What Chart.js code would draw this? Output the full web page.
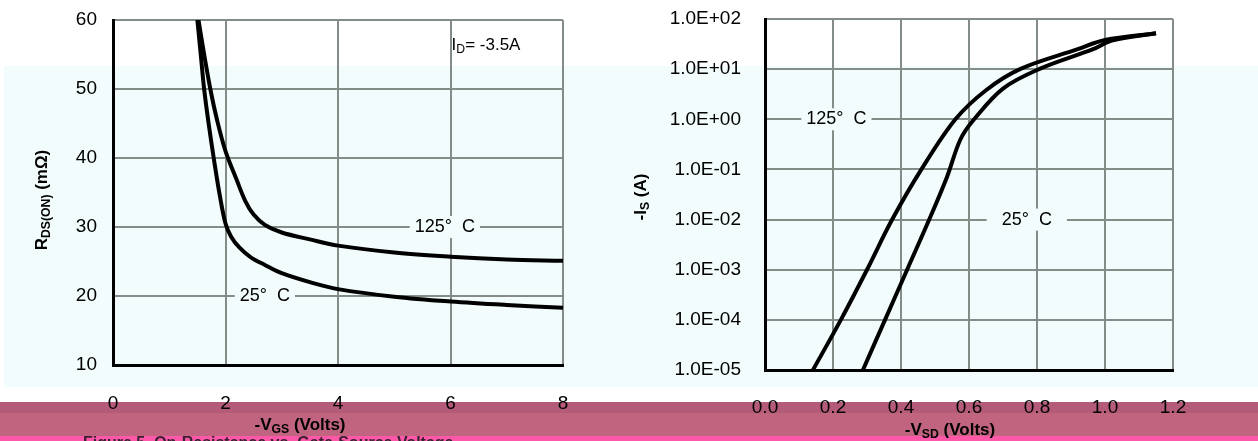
<!DOCTYPE html>
<html>
<head>
<meta charset="utf-8">
<script src="https://cdn.jsdelivr.net/npm/chart.js@4/dist/chart.umd.min.js"></script>
<style>
  body { margin: 0; width: 1258px; height: 441px; overflow: hidden; position: relative; background: #fff; font-family: "Liberation Sans", Arial, sans-serif; }
  .band { position: absolute; left: 0; width: 1258px; }
  canvas { position: absolute; top: 0; }
</style>
</head>
<body>
<div class="band" style="top:66px;height:321px;left:4px;background:#f3fcfc"></div>
<div class="band" style="top:402px;height:11px;background:#b45b79"></div>
<div class="band" style="top:413px;height:23px;background:#c0647f"></div>
<div class="band" style="top:436px;height:5px;background:#ff58a8"></div>
<canvas id="rdsChart" width="630" height="441" style="left:0"></canvas>
<canvas id="diodeChart" width="628" height="441" style="left:630px"></canvas>
<script>
// Figure 5: on-resistance vs gate-source voltage
const vgs25  = [1.5, 1.56, 1.62, 1.7, 1.8, 1.9, 2.0, 2.1, 2.25, 2.45, 2.7, 3.0, 3.5, 4.0, 5.0, 6.0, 7.0, 8.0]
const rds25  = [60, 55, 50, 45, 39.5, 34.5, 30.5, 28.6, 27.0, 25.6, 24.5, 23.3, 22.0, 21.0, 19.9, 19.2, 18.7, 18.3]
const vgs125 = [1.52, 1.6, 1.73, 1.85, 2.0, 2.2, 2.35, 2.5, 2.7, 3.0, 3.5, 4.0, 5.0, 6.0, 7.0, 8.0]
const rds125 = [60, 56, 50, 45.5, 41, 36.8, 33.8, 31.8, 30.3, 29.2, 28.2, 27.3, 26.3, 25.7, 25.3, 25.1]
const vgsTicks = [0, 2, 4, 6, 8]
const rdsTicks = [10, 20, 30, 40, 50, 60]

// Figure 6: body diode forward voltage
const vsd125 = [0.141, 0.223, 0.30, 0.374, 0.46, 0.56, 0.65, 0.75, 0.92, 1.0, 1.15]
const is125  = [1e-5, 1e-4, 1e-3, 1e-2, 0.1, 1, 3.8, 10, 25, 38, 52]
const vsd25  = [0.288, 0.353, 0.418, 0.483, 0.535, 0.575, 0.615, 0.70, 0.806, 0.965, 1.02, 1.15]
const is25   = [1e-5, 1e-4, 1e-3, 1e-2, 0.07, 0.4, 1, 4.1, 10, 25, 37, 52]
const vsdTicks = [0, 0.2, 0.4, 0.6, 0.8, 1.0, 1.2]
const isTicks  = [1e-5, 1e-4, 1e-3, 1e-2, 1e-1, 1, 10, 100]

const FONT = '"Liberation Sans", Arial, sans-serif'
const PLOT_BG = '#f3fcfc'

function toPoints(xs, ys) {
    return xs.map((x, i) => ({ x: x, y: ys[i] }))
}

function sciLabel(v) {
    let exp = Math.round(Math.log10(v))
    let sign = exp < 0 ? '-' : '+'
    return '1.0E' + sign + String(Math.abs(exp)).padStart(2, '0')
}

// draws text made of normal and subscript parts, centred on x
function drawParts(ctx, x, y, parts, size, bold) {
    let w = 0
    parts.forEach(p => {
        ctx.font = (bold ? 'bold ' : '') + (p.sub ? size * 0.72 : size) + 'px ' + FONT
        p.w = ctx.measureText(p.t).width
        w += p.w
    })
    let cx = x - w / 2
    ctx.textAlign = 'left'
    ctx.textBaseline = 'middle'
    parts.forEach(p => {
        ctx.font = (bold ? 'bold ' : '') + (p.sub ? size * 0.72 : size) + 'px ' + FONT
        ctx.fillText(p.t, cx, p.sub ? y + size * 0.3 : y)
        cx += p.w
    })
}

function boxedLabel(ctx, text, x, y, padW) {
    ctx.font = '18px ' + FONT
    let w = ctx.measureText(text).width + padW
    ctx.fillStyle = PLOT_BG
    ctx.fillRect(x - w / 2, y - 11, w, 22)
    ctx.fillStyle = '#000'
    ctx.textAlign = 'center'
    ctx.textBaseline = 'middle'
    ctx.fillText(text, x, y)
}

function curve(points) {
    return {
        data: points,
        showLine: true,
        borderColor: '#000',
        borderWidth: 4,
        pointRadius: 0,
        tension: 0.35,
        fill: false
    }
}

const gridStyle = { color: '#848c88', lineWidth: 2, drawTicks: false }
const borderStyle = { color: '#000', width: 3 }

// keep the plot area where the layout padding puts it
function fixY(width) {
    return s => { s.width = width; s.paddingTop = 0; s.paddingBottom = 0 }
}
function fixX(height) {
    return s => { s.height = height; s.paddingLeft = 0; s.paddingRight = 0 }
}

const rdsText = {
    id: 'rdsText',
    afterDatasetsDraw(chart) {
        const ctx = chart.ctx
        ctx.save()
        const x = chart.scales.x, y = chart.scales.y
        boxedLabel(ctx, '125°  C', x.getPixelForValue(5.9), y.getPixelForValue(30), 10)
        boxedLabel(ctx, '25°  C', x.getPixelForValue(2.7), y.getPixelForValue(20), 10)
        ctx.fillStyle = '#000'
        drawParts(ctx, 486, 45, [{ t: 'I' }, { t: 'D', sub: true }, { t: '= -3.5A' }], 17, false)
        drawParts(ctx, 300, 425, [{ t: '-V' }, { t: 'GS', sub: true }, { t: ' (Volts)' }], 17, true)
        ctx.save()
        ctx.translate(42, 200)
        ctx.rotate(-Math.PI / 2)
        drawParts(ctx, 0, 0, [{ t: 'R' }, { t: 'DS(ON)', sub: true }, { t: ' (mΩ)' }], 17, true)
        ctx.restore()
        ctx.fillStyle = '#3a2030'
        ctx.font = 'bold 16px ' + FONT
        ctx.textAlign = 'left'
        ctx.textBaseline = 'top'
        ctx.fillText('Figure 5. On-Resistance vs. Gate-Source Voltage', 83, 436)
        ctx.restore()
    }
}

const diodeText = {
    id: 'diodeText',
    afterDatasetsDraw(chart) {
        const ctx = chart.ctx
        ctx.save()
        const x = chart.scales.x, y = chart.scales.y
        boxedLabel(ctx, '125°  C', x.getPixelForValue(0.21), y.getPixelForValue(1), 10)
        boxedLabel(ctx, '25°  C', x.getPixelForValue(0.77), y.getPixelForValue(0.01), 30)
        ctx.fillStyle = '#000'
        drawParts(ctx, 320, 430, [{ t: '-V' }, { t: 'SD', sub: true }, { t: ' (Volts)' }], 17, true)
        ctx.save()
        ctx.translate(11, 197)
        ctx.rotate(-Math.PI / 2)
        drawParts(ctx, 0, 0, [{ t: '-I' }, { t: 'S', sub: true }, { t: ' (A)' }], 17, true)
        ctx.restore()
        ctx.restore()
    }
}

new Chart(document.getElementById('rdsChart').getContext('2d'), {
    type: 'scatter',
    data: { datasets: [curve(toPoints(vgs25, rds25)), curve(toPoints(vgs125, rds125))] },
    options: {
        responsive: false,
        animation: false,
        devicePixelRatio: 1,
        layout: { padding: { top: 20, right: 67, left: 0, bottom: 0 } },
        plugins: { legend: { display: false }, tooltip: { enabled: false } },
        scales: {
            x: {
                type: 'linear', min: 0, max: 8,
                afterBuildTicks: s => { s.ticks = vgsTicks.map(v => ({ value: v })) },
                afterFit: fixX(76),
                grid: gridStyle, border: borderStyle,
                ticks: { color: '#000', padding: 27, font: { size: 19, family: FONT } }
            },
            y: {
                type: 'linear', min: 10, max: 60,
                afterBuildTicks: s => { s.ticks = rdsTicks.map(v => ({ value: v })) },
                afterFit: fixY(113),
                grid: gridStyle, border: borderStyle,
                ticks: { color: '#000', padding: 16, font: { size: 19, family: FONT } }
            }
        }
    },
    plugins: [rdsText]
})

new Chart(document.getElementById('diodeChart').getContext('2d'), {
    type: 'scatter',
    data: { datasets: [curve(toPoints(vsd125, is125)), curve(toPoints(vsd25, is25))] },
    options: {
        responsive: false,
        animation: false,
        devicePixelRatio: 1,
        layout: { padding: { top: 19, right: 85, left: 0, bottom: 0 } },
        plugins: { legend: { display: false }, tooltip: { enabled: false } },
        scales: {
            x: {
                type: 'linear', min: 0, max: 1.2,
                afterBuildTicks: s => { s.ticks = vsdTicks.map(v => ({ value: v })) },
                afterFit: fixX(71),
                grid: gridStyle, border: borderStyle,
                ticks: { color: '#000', padding: 26, font: { size: 19, family: FONT }, callback: v => v.toFixed(1) }
            },
            y: {
                type: 'logarithmic', min: 1e-5, max: 100,
                afterBuildTicks: s => { s.ticks = isTicks.map(v => ({ value: v })) },
                afterFit: fixY(135),
                grid: gridStyle, border: borderStyle,
                ticks: { color: '#000', padding: 24, font: { size: 19, family: FONT }, callback: v => sciLabel(v) }
            }
        }
    },
    plugins: [diodeText]
})
</script>
</body>
</html>
